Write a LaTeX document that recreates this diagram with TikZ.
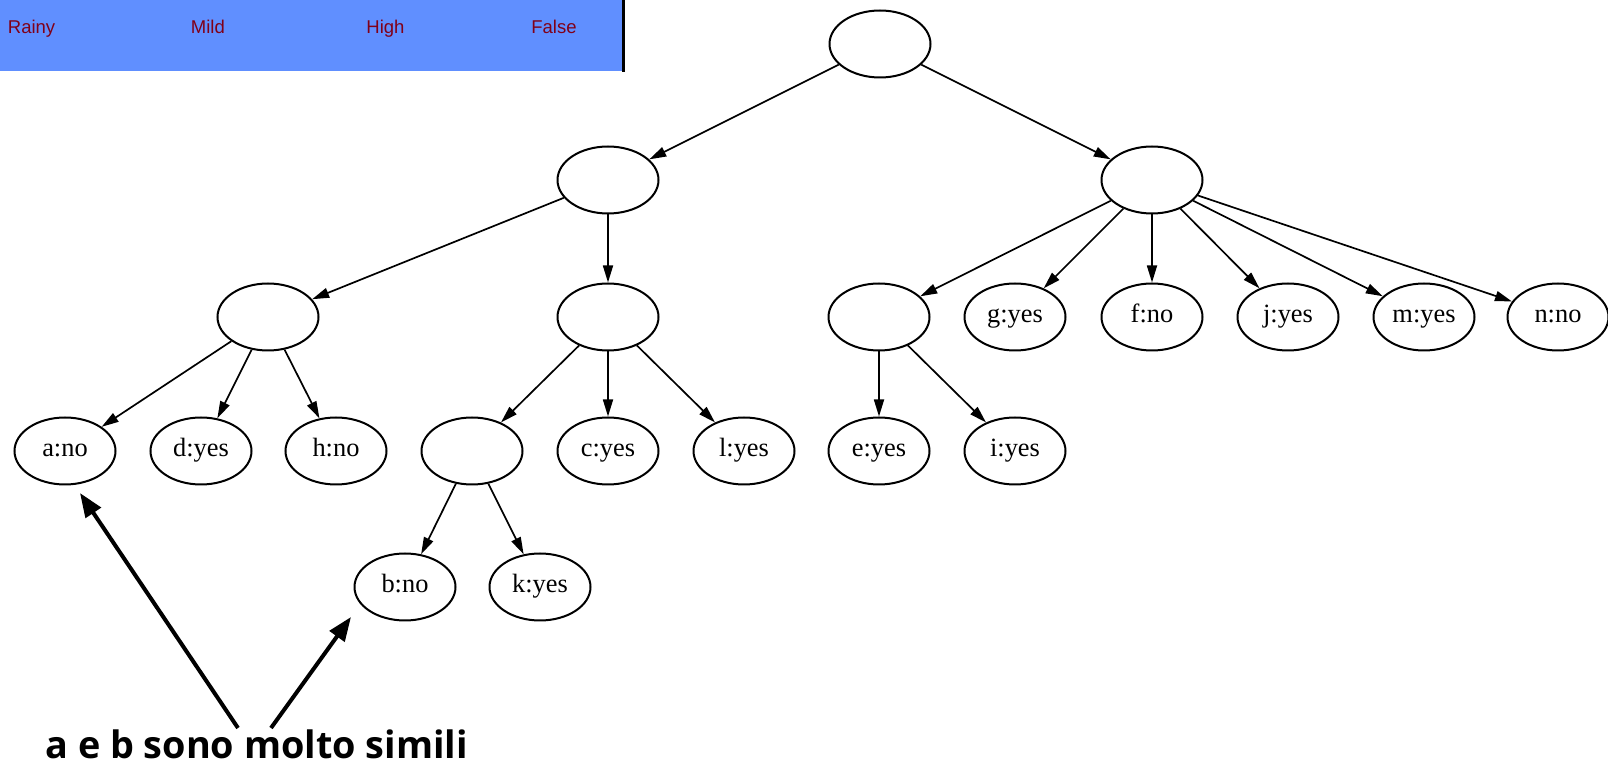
\documentclass[tikz,border=0pt]{standalone}
\usepackage{fontspec}
\setmainfont{Liberation Serif}
\newfontfamily\barfont{Liberation Sans}
\newfontfamily\notefont{Open Sans}
\usetikzlibrary{arrows.meta,shapes.geometric}
\definecolor{barblue}{RGB}{96,143,255}
\definecolor{barred}{RGB}{128,0,24}
\begin{document}
\begin{tikzpicture}[x=0.5pt,y=-0.5pt,
  tn/.style={ellipse,draw,line width=1pt,minimum width=50.5pt,minimum height=33.5pt,
    inner sep=0pt,text height=8.6pt,text depth=2.6pt,
    font=\fontsize{13.2}{14}\selectfont},
  link/.style={-{Triangle[length=8.5pt,width=5pt]},line width=0.85pt},
  bartext/.style={font=\barfont\fontsize{9.25}{11}\selectfont,text=barred,
    anchor=base west,inner sep=0pt},
  pointer/.style={-{Triangle[length=12pt,width=9pt]},line width=2pt}]
\useasboundingbox (0,0) rectangle (1608,764);

% table row strip
\fill[barblue] (0,0) rectangle (622,71);
\draw[line width=1.5pt] (623.5,0) -- (623.5,72);
\node[bartext] (rainy) at (7.5,34) {Rainy};
\node[bartext] (mild) at (190.5,34) {Mild};
\node[bartext] (high) at (366,34) {High};
\node[bartext] (false) at (531,34) {False};

% tree
\node[tn] (root) at (880,44) {};
\node[tn] (L) at (608,180) {};
\node[tn] (R) at (1152,180) {};
\node[tn] (A) at (268,317) {};
\node[tn] (B) at (608,317) {};
\node[tn] (E) at (879,317) {};
\node[tn] (g) at (1015,317) {g:yes};
\node[tn] (f) at (1152,317) {f:no};
\node[tn] (j) at (1288,317) {j:yes};
\node[tn] (m) at (1424,317) {m:yes};
\node[tn] (n) at (1558,317) {n:no};
\node[tn] (a) at (65,451) {a:no};
\node[tn] (d) at (201,451) {d:yes};
\node[tn] (h) at (336,451) {h:no};
\node[tn] (U) at (472,451) {};
\node[tn] (c) at (608,451) {c:yes};
\node[tn] (l) at (744,451) {l:yes};
\node[tn] (e) at (879,451) {e:yes};
\node[tn] (i) at (1015,451) {i:yes};
\node[tn] (b) at (405,587) {b:no};
\node[tn] (k) at (540,587) {k:yes};

\foreach \s/\t in {root/L,root/R,L/A,L/B,A/a,A/d,A/h,B/U,B/c,B/l,U/b,U/k,
                   R/E,R/g,R/f,R/j,R/m,R/n,E/e,E/i}
  \draw[link] (\s) -- (\t);

% note with pointers
\node[font=\notefont\bfseries\fontsize{18.9}{22}\selectfont,anchor=base west,inner sep=0pt]
  (note) at (45,758) {a e b sono molto simili};
\coordinate (t1) at (238,728);
\coordinate (h1) at (80,493);
\coordinate (t2) at (271,728);
\coordinate (h2) at (351,617);
\draw[pointer] (t1) -- (h1);
\draw[pointer] (t2) -- (h2);
\end{tikzpicture}
\end{document}
